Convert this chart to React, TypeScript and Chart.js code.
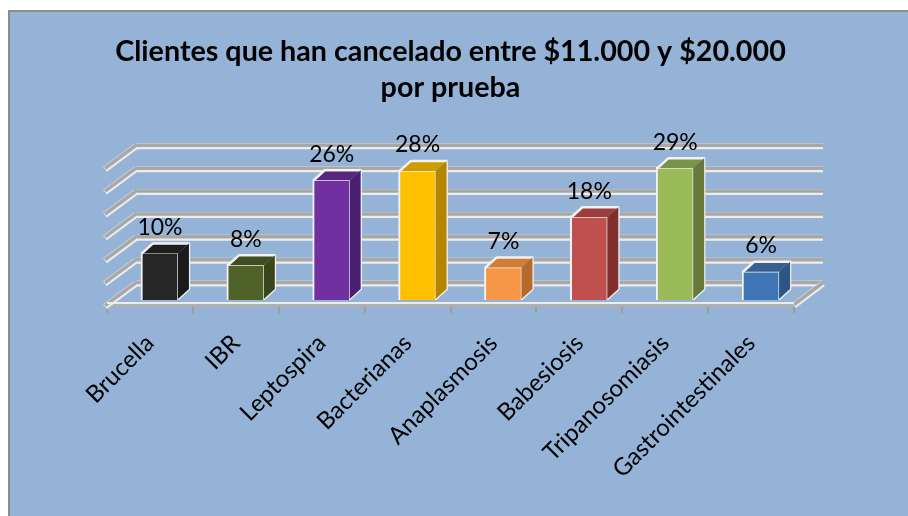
import React, { useEffect, useRef } from "react";
import { Chart, registerables } from "chart.js";

Chart.register(...registerables);

const titleLines = ["Clientes que han cancelado entre $11.000 y $20.000", "por prueba"];
const categories = ["Brucella", "IBR", "Leptospira", "Bacterianas", "Anaplasmosis", "Babesiosis", "Tripanosomiasis", "Gastrointestinales"];
const values = [10.4, 7.8, 26.4, 28.4, 7.3, 18.3, 29, 6.4];
const frontColors = ["#262626", "#4f6228", "#7030a0", "#ffc000", "#f79646", "#c0504d", "#9bbb59", "#3f74b5"];
const sideColors = ["#1a1a1a", "#39461c", "#4a2070", "#b38600", "#b56a2c", "#7f2f2e", "#66783a", "#2f5585"];
const topColors = ["#1e1e1e", "#3f4e20", "#562680", "#d09d00", "#d17d38", "#9e3e3c", "#7a9447", "#38608f"];
const FONT = "Lato, 'Open Sans', sans-serif";

const BAR_SHIFT = { x: 10, y: -5 };
const WALL = { x: 29, y: -22 };
const BAR_DEPTH = { x: 11, y: -10 };

function band(ctx: CanvasRenderingContext2D, x1: number, y1: number, x2: number, y2: number) {
  ctx.strokeStyle = "#ececec";
  ctx.lineWidth = 6;
  ctx.beginPath(); ctx.moveTo(x1, y1 + 0.5); ctx.lineTo(x2, y2 + 0.5); ctx.stroke();
  ctx.strokeStyle = "#a8a8a8";
  ctx.lineWidth = 3.5;
  ctx.beginPath(); ctx.moveTo(x1, y1 - 0.5); ctx.lineTo(x2, y2 - 0.5); ctx.stroke();
}

const depthPlugin = {
  id: "depth",
  beforeDatasetsDraw(chart: any) {
    const { ctx, chartArea, scales } = chart;
    const { left, right } = chartArea;
    ctx.save();
    ctx.lineCap = "butt";
    for (const t of scales.y.ticks) {
      const py = scales.y.getPixelForValue(t.value);
      band(ctx, left - 2, py + 1, left + WALL.x, py + WALL.y);
      band(ctx, left + WALL.x, py + WALL.y, right + WALL.x, py + WALL.y);
    }
    const by = scales.y.getPixelForValue(0);
    band(ctx, right, by, right + WALL.x, by + WALL.y);
    ctx.strokeStyle = "#ececec";
    ctx.lineWidth = 2;
    ctx.beginPath(); ctx.moveTo(left, by - 2); ctx.lineTo(right, by - 2); ctx.stroke();
    ctx.restore();
    ctx.save();
    ctx.translate(BAR_SHIFT.x, BAR_SHIFT.y);
  },
  afterDatasetsDraw(chart: any) {
    const { ctx } = chart;
    const meta = chart.getDatasetMeta(0);
    meta.data.forEach((el: any, i: number) => {
      const l = el.x - el.width / 2 + 1;
      const r = el.x + el.width / 2 - 1;
      const t = el.y + 1;
      const b = el.base - 1;
      const d = BAR_DEPTH;
      ctx.lineJoin = "round";
      ctx.strokeStyle = "#f2f2f2";
      ctx.lineWidth = 2.5;
      ctx.fillStyle = topColors[i];
      ctx.beginPath();
      ctx.moveTo(l, t); ctx.lineTo(l + d.x, t + d.y); ctx.lineTo(r + d.x, t + d.y); ctx.lineTo(r, t); ctx.closePath();
      ctx.fill();
      ctx.beginPath();
      ctx.moveTo(l, t); ctx.lineTo(l + d.x, t + d.y); ctx.lineTo(r + d.x, t + d.y); ctx.lineTo(r + d.x, b + d.y); ctx.lineTo(r, b);
      ctx.stroke();
      ctx.fillStyle = sideColors[i];
      ctx.beginPath();
      ctx.moveTo(r, t); ctx.lineTo(r + d.x, t + d.y); ctx.lineTo(r + d.x, b + d.y); ctx.lineTo(r, b); ctx.closePath();
      ctx.fill();
      ctx.fillStyle = "#000";
      ctx.font = "23px " + FONT;
      ctx.textAlign = "center";
      ctx.textBaseline = "middle";
      ctx.fillText(Math.round(values[i]) + "%", el.x, el.y - 25);
    });
    ctx.restore();
  },
};

export default function App() {
  const ref = useRef<HTMLCanvasElement>(null);
  useEffect(() => {
    const chart = new Chart(ref.current!, {
      type: "bar",
      data: {
        labels: categories,
        datasets: [{
          data: values,
          backgroundColor: frontColors,
          borderColor: "#f2f2f2",
          borderWidth: 2,
          barThickness: 38,
          clip: false,
        }],
      },
      plugins: [depthPlugin],
      options: {
        animation: false,
        responsive: false,
        layout: { padding: { left: 107, right: 114, top: 34, bottom: 0 } },
        plugins: {
          legend: { display: false },
          tooltip: { enabled: false },
          title: {
            display: true,
            text: titleLines,
            color: "#000",
            font: { family: FONT, size: 28.7, weight: "bold", lineHeight: 1.25 },
            padding: { top: 0, bottom: 62 },
          },
        },
        scales: {
          x: {
            afterFit(scale: any) { scale.height = 211; },
            grid: { display: true, drawOnChartArea: false, drawTicks: true, tickLength: 8, color: "#9c9c9c", lineWidth: 2 },
            border: { display: true, color: "#b0b0b0", width: 3 },
            ticks: { color: "#000", font: { family: FONT, size: 24 }, minRotation: 45, maxRotation: 45, autoSkip: false, padding: 16 },
          },
          y: { display: false, min: 0, max: 30, ticks: { stepSize: 5 } },
        },
      } as any,
    });
    return () => chart.destroy();
  }, []);
  return (
    <div style={{ position: "fixed", left: 0, top: 0, width: 908, height: 516, background: "#fff", overflow: "hidden" }}>
      <div style={{ position: "absolute", left: 8, top: 10, right: 0, bottom: 0, background: "#95b3d7", borderLeft: "2px solid #8c8c8c", borderTop: "2px solid #8c8c8c" }} />
      <canvas ref={ref} width={908} height={516} style={{ position: "absolute", left: 0, top: 0, display: "block" }} />
    </div>
  );
}
